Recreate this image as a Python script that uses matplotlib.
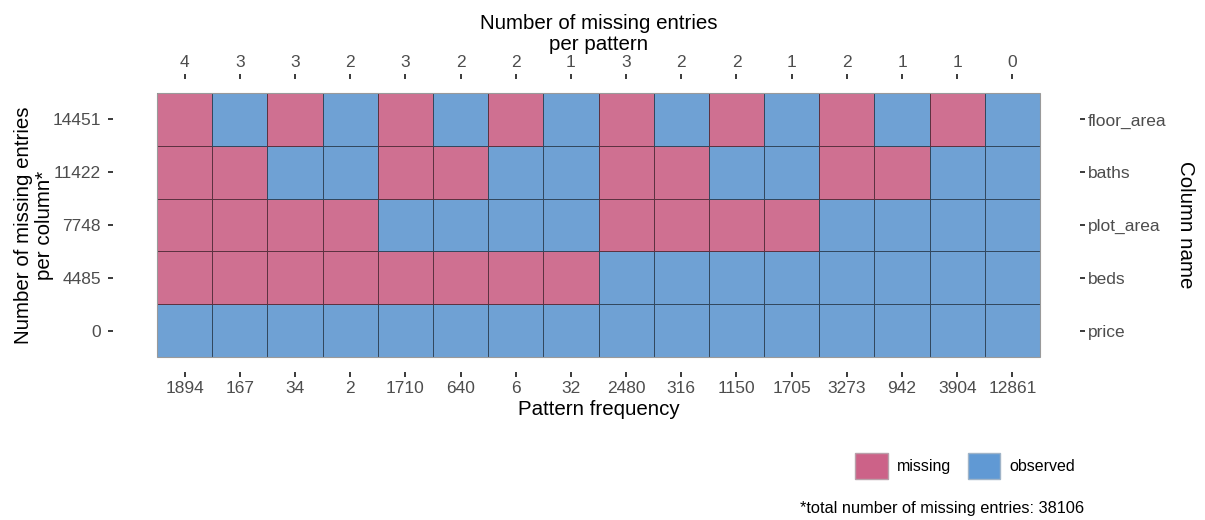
#!/usr/bin/env python3
"""Missing data pattern plot (ggmice-like)."""

import matplotlib

matplotlib.use("Agg")
import matplotlib.pyplot as plt
import numpy as np
from matplotlib.colors import ListedColormap
from matplotlib.patches import Patch

plt.rcParams["font.family"] = ["Liberation Sans", "DejaVu Sans"]

# rows listed from top to bottom
COLUMN_NAMES = ["floor_area", "baths", "plot_area", "beds", "price"]
MISSING_PER_COLUMN = [14451, 11422, 7748, 4485, 0]
PATTERN_FREQ = [1894, 167, 34, 2, 1710, 640, 6, 32, 2480, 316, 1150, 1705, 3273, 942, 3904, 12861]
# 1 = missing, 0 = observed
PATTERNS = [
    [1, 0, 1, 0, 1, 0, 1, 0, 1, 0, 1, 0, 1, 0, 1, 0],
    [1, 1, 0, 0, 1, 1, 0, 0, 1, 1, 0, 0, 1, 1, 0, 0],
    [1, 1, 1, 1, 0, 0, 0, 0, 1, 1, 1, 1, 0, 0, 0, 0],
    [1, 1, 1, 1, 1, 1, 1, 1, 0, 0, 0, 0, 0, 0, 0, 0],
    [0, 0, 0, 0, 0, 0, 0, 0, 0, 0, 0, 0, 0, 0, 0, 0],
]

MISSING_COLOR = "#CF7091"
OBSERVED_COLOR = "#6FA1D4"
TICK_COLOR = "#4D4D4D"
PX = 72 / 100  # points per pixel at dpi 100


def main() -> None:
    mat = np.array(PATTERNS)
    n_rows, n_cols = mat.shape
    missing_per_pattern = mat.sum(axis=0)

    fig = plt.figure(figsize=(12.05, 5.2), dpi=100)
    ax = fig.add_axes([0.1303, 0.3135, 0.7328, 0.5077])

    cmap = ListedColormap([OBSERVED_COLOR, MISSING_COLOR])
    ax.pcolormesh(
        np.arange(n_cols + 1),
        np.arange(n_rows + 1),
        mat[::-1],
        cmap=cmap,
        vmin=0,
        vmax=1,
        edgecolors=(0, 0, 0, 0.55),
        linewidth=0.6,
    )
    ax.set_xlim(0, n_cols)
    ax.set_ylim(0, n_rows)

    xpos = np.arange(n_cols) + 0.5
    ypos = np.arange(n_rows)[::-1] + 0.5

    ax.set_xticks(xpos)
    ax.set_xticklabels([str(v) for v in PATTERN_FREQ])
    ax.set_yticks(ypos)
    ax.set_yticklabels([str(v) for v in MISSING_PER_COLUMN])

    top = ax.twiny()
    top.set_xlim(ax.get_xlim())
    top.set_xticks(xpos)
    top.set_xticklabels([str(v) for v in missing_per_pattern])

    right = ax.twinx()
    right.set_ylim(ax.get_ylim())
    right.set_yticks(ypos)
    right.set_yticklabels(COLUMN_NAMES)

    for a in (ax, top, right):
        a.tick_params(length=5 * PX, width=1.5 * PX, color="black", labelcolor=TICK_COLOR,
                      labelsize=12.5, pad=3)
        for spine in a.spines.values():
            spine.set_visible(False)
    ax.tick_params(axis="y", pad=5)
    right.tick_params(axis="y", pad=2)
    ax.spines["bottom"].set_position(("outward", 15 * PX))
    ax.spines["left"].set_position(("outward", 44 * PX))
    top.spines["top"].set_position(("outward", 14 * PX))
    right.spines["right"].set_position(("outward", 40 * PX))

    # axis titles placed by hand
    title_size = 14.8
    ax.set_xlabel("Pattern frequency", fontsize=title_size)
    ax.xaxis.set_label_coords(0.5, (357 - 410) / 264)
    ax.xaxis.label.set_va("center")
    top.set_xlabel("Number of missing entries\nper pattern", fontsize=title_size, linespacing=1.1)
    top.xaxis.set_label_coords(0.5, (357 - 34) / 264)
    top.xaxis.label.set_va("center")
    ax.set_ylabel("Number of missing entries\nper column*", fontsize=title_size, linespacing=1.1)
    ax.yaxis.set_label_coords((34 - 157) / 883, 0.5)
    ax.yaxis.label.set_va("center")
    right.set_ylabel("Column name", fontsize=title_size, rotation=-90)
    right.yaxis.set_label_coords((1185 - 157) / 883, 0.5)
    right.yaxis.label.set_va("center")

    # panel outline drawn on top of the tiles
    ax.add_patch(
        plt.Rectangle((0, 0), n_cols, n_rows, fill=False, edgecolor="#9a9a9a", linewidth=0.8,
                      zorder=5, clip_on=False)
    )

    handles = [
        Patch(facecolor="#CC6288", edgecolor="#b9a0aa", label="missing"),
        Patch(facecolor="#6099D4", edgecolor="#a0b4c8", label="observed"),
    ]
    fig.legend(
        handles=handles,
        loc="center left",
        bbox_to_anchor=(855 / 1205, 1 - 466 / 520),
        ncol=2,
        frameon=False,
        fontsize=11.5,
        handlelength=2.05,
        handleheight=2.05,
        handletextpad=0.6,
        columnspacing=1.0,
        borderpad=0,
        borderaxespad=0,
    )
    fig.text(1084 / 1205, 1 - 509 / 520, "*total number of missing entries: 38106",
             ha="right", va="center", fontsize=11.8, color="black")

    fig.savefig("out.png", dpi=100)
    plt.close(fig)


if __name__ == "__main__":
    main()
